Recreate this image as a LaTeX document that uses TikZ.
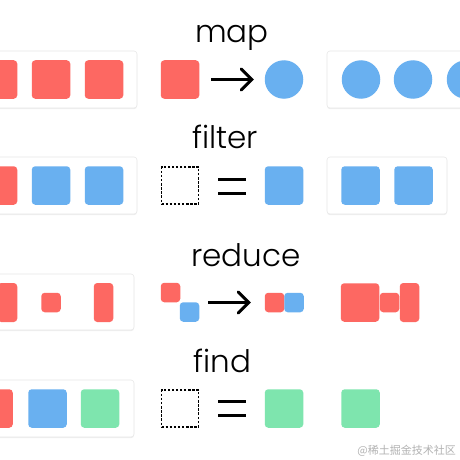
\documentclass[tikz,border=0pt]{standalone}
\usepackage{fontspec}
\setmainfont{Poppins Light}
\newfontfamily\cjkfont{Noto Sans CJK SC}
\usetikzlibrary{arrows.meta,shadows,calc}
\definecolor{cred}{HTML}{FD6862}
\definecolor{cblue}{HTML}{69B0F0}
\definecolor{cgreen}{HTML}{7EE5AE}
\tikzset{
  card/.style={draw=black!9, line width=0.6pt, fill=white, rounded corners=3pt,
    drop shadow={shadow xshift=0pt, shadow yshift=-1.2pt, opacity=0.13}, inner sep=0, outer sep=0},
  item/.style={rounded corners=3.5pt, inner sep=0, outer sep=0, minimum width=38.5pt, minimum height=38.5pt},
  smallitem/.style={item, minimum width=19.5pt, minimum height=19.5pt},
  tallitem/.style={item, minimum width=19.5pt, minimum height=39pt},
  dot/.style={circle, inner sep=0, outer sep=0, minimum size=38.5pt, fill=cblue},
  emptybox/.style={draw=black, dashed, dash pattern=on 2.4pt off 1.7pt, line width=1.4pt, inner sep=0, minimum width=37pt, minimum height=37pt},
  title/.style={font=\fontsize{31}{31}\selectfont, anchor=base west, inner sep=0, text=black},
  arrowline/.style={line width=3pt},
  arrowhead/.style={line width=3pt, line cap=round, line join=miter},
  eqbar/.style={line width=3pt}
}
\begin{document}
\begin{tikzpicture}[x=1pt, y=-1pt]
\useasboundingbox (0,0) rectangle (460,460);
\clip (0,0) rectangle (460,460);
\fill[white] (0,0) rectangle (460,460);

% ---------- map ----------
\node[title] (tmap) at (195,42) {map};
\node[card, minimum width=157pt, minimum height=57pt] (mapL) at (58.5,79.5) {};
\node[item, fill=cred] (m1) at (-2,79.5) {};
\node[item, fill=cred] (m2) at (51,79.5) {};
\node[item, fill=cred] (m3) at (104,79.5) {};
\node[item, fill=cred] (min) at (180,79.5) {};
\node[dot] (mout) at (284,79.5) {};
\coordinate (mtip) at ($(mout.west)+(-13,0)$);
\draw[arrowline, shorten <=12pt] (min.east) -- ($(mtip)+(-1,0)$);
\draw[arrowhead] ($(mtip)+(-10.5,-10.5)$) -- (mtip) -- ($(mtip)+(-10.5,10.5)$);
\node[card, minimum width=157pt, minimum height=57pt] (mapR) at (405.5,79.5) {};
\node[dot] (c1) at (361,79.5) {};
\node[dot] (c2) at (413,79.5) {};
\node[dot] (c3) at (466,79.5) {};

% ---------- filter ----------
\node[title] (tfilter) at (192,148) {filter};
\node[card, minimum width=157pt, minimum height=57pt] (filL) at (58.5,185.5) {};
\node[item, fill=cred] (f1) at (-2,185.5) {};
\node[item, fill=cblue] (f2) at (51,185.5) {};
\node[item, fill=cblue] (f3) at (104,185.5) {};
\node[emptybox] (fin) at (180,185.5) {};
\node[item, fill=cblue] (fout) at (284,185.5) {};
\coordinate (fe1) at (218,179);
\coordinate (fe2) at (246,179);
\coordinate (fe3) at (218,193);
\coordinate (fe4) at (246,193);
\draw[eqbar] (fe1) -- (fe2);
\draw[eqbar] (fe3) -- (fe4);
\node[card, minimum width=120pt, minimum height=57pt] (filR) at (387,185.5) {};
\node[item, fill=cblue] (fr1) at (360.5,185.5) {};
\node[item, fill=cblue] (fr2) at (413.5,185.5) {};

% ---------- reduce ----------
\node[title] (treduce) at (191,266) {reduce};
\node[card, minimum width=154pt, minimum height=56pt] (redL) at (57,302) {};
\node[tallitem, fill=cred] (r1) at (7.5,302.5) {};
\node[smallitem, fill=cred] (r2) at (51,302.5) {};
\node[tallitem, fill=cred] (r3) at (103.5,302.5) {};
\node[smallitem, fill=cred] (ra) at (170.5,292.5) {};
\node[smallitem, fill=cblue] (rb) at (189.5,312) {};
\node[smallitem, fill=cred] (rc) at (274.5,302.5) {};
\node[smallitem, fill=cblue] (rd) at (294,302.5) {};
\coordinate (rstart) at (208,302.5);
\coordinate (rtip) at ($(rc.west)+(-16,0)$);
\draw[arrowline] (rstart) -- ($(rtip)+(-1,0)$);
\draw[arrowhead] ($(rtip)+(-10.5,-10.5)$) -- (rtip) -- ($(rtip)+(-10.5,10.5)$);
\node[smallitem, fill=cred] (rmid) at (389.5,302.5) {};
\node[item, fill=cred] (rbig) at (360,302.5) {};
\node[tallitem, fill=cred] (rtall) at (409.5,302.5) {};

% ---------- find ----------
\node[title] (tfind) at (193,372) {find};
\node[card, minimum width=154pt, minimum height=57pt] (finL) at (57,408.5) {};
\node[item, fill=cred] (d1) at (-6.5,408.5) {};
\node[item, fill=cblue] (d2) at (47.5,408.5) {};
\node[item, fill=cgreen] (d3) at (100,408.5) {};
\node[emptybox] (din) at (180,408.5) {};
\coordinate (de1) at (218,401.5);
\coordinate (de2) at (246,401.5);
\coordinate (de3) at (218,415.5);
\coordinate (de4) at (246,415.5);
\draw[eqbar] (de1) -- (de2);
\draw[eqbar] (de3) -- (de4);
\node[item, fill=cgreen] (dout) at (284,408.5) {};
\node[item, fill=cgreen] (dres) at (360.5,408.5) {};

% watermark
\node[anchor=east, inner sep=0, text=black!30, font=\cjkfont\fontsize{11}{11}\selectfont] (wm) at (456,451) {@稀土掘金技术社区};
\end{tikzpicture}
\end{document}
